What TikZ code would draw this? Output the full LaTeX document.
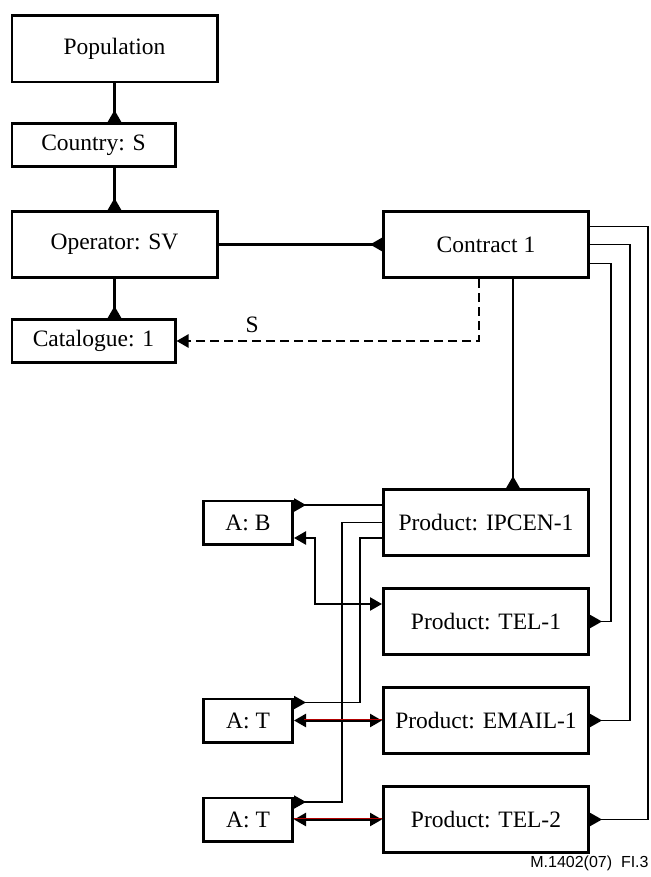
\documentclass[tikz,border=0pt]{standalone}
\usepackage{fontspec}
\setmainfont{Liberation Serif}
\newfontfamily\figfont{Liberation Sans}
\usepackage{tikz}
\usetikzlibrary{positioning, arrows.meta}
\tikzset{
    base/.style={draw, line width=1.3pt, rectangle, inner sep=0pt, minimum width=102.7pt, minimum height=33.2pt, align=center, font=\fontsize{11.75}{14}\selectfont},
    small/.style={base, minimum width=81.7pt, minimum height=21.7pt},
    attr/.style={base, minimum width=44.7pt, minimum height=21.7pt},
    conn/.style={line width=1.2pt},
    thinconn/.style={line width=0.9pt},
    crow/.style={-{Triangle[reversed, length=6pt, width=6.5pt]}},
    arrow/.style={-{Triangle[length=6pt, width=6.5pt]}},
    biarrow/.style={{Triangle[length=6pt, width=6.5pt]}-{Triangle[length=6pt, width=6.5pt]}}
}
\begin{document}
\begin{tikzpicture}[x=0.5pt, y=-0.5pt]
\useasboundingbox (0,0) rectangle (650,877);
% left column
\node[base] (pop) at (114.5,49) {Population};
\node[small, below=19.25pt of pop.south west, anchor=north west] (country) {Country: S};
\node[base, below=21pt of country.south west, anchor=north west] (oper) {Operator: SV};
\node[small, below=19.5pt of oper.south west, anchor=north west] (cat) {Catalogue: 1};
% contract and products
\node[base, right=81.75pt of oper] (contr) {Contract 1};
\node[base, below=104.5pt of contr] (ipcen) {Product: IPCEN-1};
\node[base, below=15pt of ipcen] (tel1) {Product: TEL-1};
\node[base, below=15pt of tel1] (email) {Product: EMAIL-1};
\node[base, below=15pt of email] (tel2) {Product: TEL-2};
% attributes
\node[attr, left=44pt of ipcen] (ab) {A: B};
\node[attr, left=44pt of email] (at1) {A: T};
\node[attr, left=44pt of tel2] (at2) {A: T};

\draw[conn, crow] (pop.south) -- (pop.south |- country.north);
\draw[conn, crow] (pop.south |- country.south) -- (oper.north);
\draw[conn, crow] (oper.south) -- (oper.south |- cat.north);
\draw[conn, crow] (oper.east) -- (contr.west);
\draw[conn, arrow, dash pattern=on 4.5pt off 2.5pt] ([xshift=-3.5pt]contr.south) |- node[pos=0.875, above, font=\fontsize{11.75}{14}\selectfont] {S} (cat.east);
\draw[conn, crow] ([xshift=13.5pt]contr.south) -- ([xshift=13.5pt]contr.south |- ipcen.north);

% contract to products on the right
\draw[thinconn, crow] ([yshift=9pt]contr.east) -- ++(58,0) |- (tel2.east);
\draw[thinconn, crow] (contr.east) -- ++(40,0) |- (email.east);
\draw[thinconn, crow] ([yshift=-9.5pt]contr.east) -- ++(21,0) |- (tel1.east);

% product to attributes
\draw[conn, crow] ([yshift=8.75pt]ipcen.west) -- ([yshift=8.75pt]ipcen.west -| ab.east);
\draw[thinconn, crow] (ipcen.west) -- ++(-40,0) |- ([yshift=8.75pt]at2.east);
\draw[thinconn, crow] ([yshift=-7.75pt]ipcen.west) -- ++(-22,0) |- ([yshift=9pt]at1.east);
\draw[conn, biarrow] ([yshift=-7.75pt]ab.east) -- ++(21,0) |- ([yshift=8.75pt]tel1.west);
\draw[conn, biarrow] (at1.east) -- (at1.east -| email.west);
\draw[red!70!black, line width=0.3pt] ([xshift=5pt, yshift=0.4pt]at1.east) -- ([yshift=0.4pt]at1.east -| email.west);
\draw[conn, biarrow] (at2.east) -- (at2.east -| tel2.west);
\draw[red!70!black, line width=0.45pt] ([yshift=0.35pt]at2.east) -- ([yshift=0.35pt]at2.east -| tel2.west);

\node[anchor=base east, inner sep=0pt, font=\figfont\fontsize{8}{9}\selectfont] (fig) at (649,867) {M.1402(07)\ \ FI.3};
\end{tikzpicture}
\end{document}
